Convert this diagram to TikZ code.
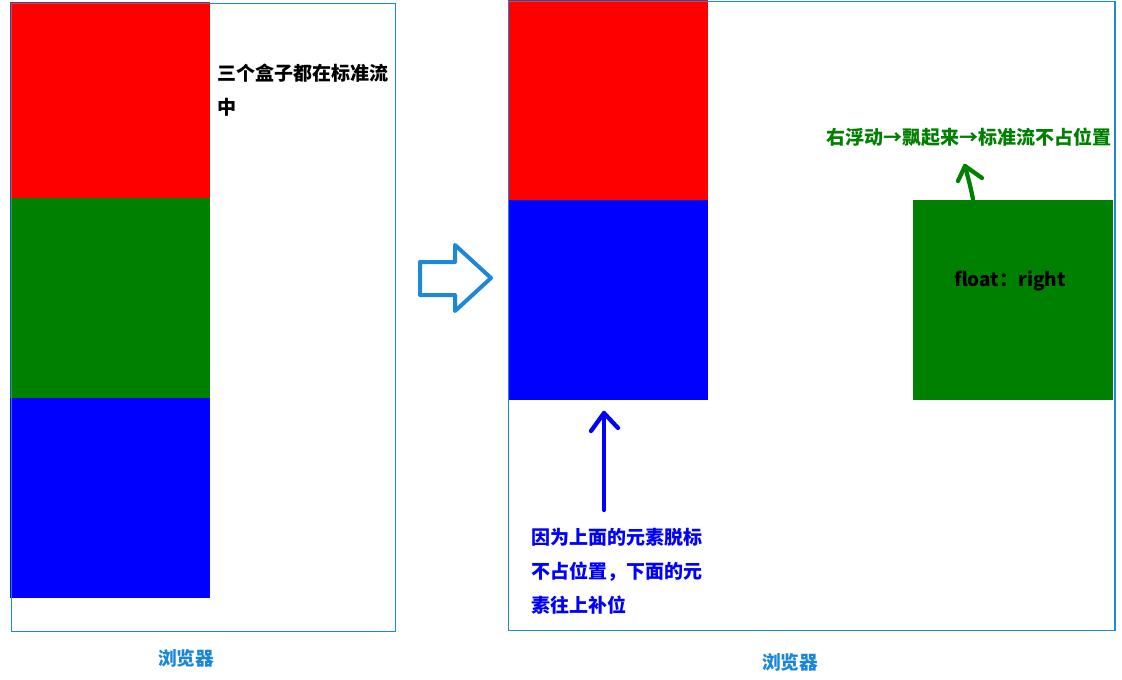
\documentclass[tikz,border=0pt]{standalone}
\usepackage{fontspec}
\setmainfont{Noto Sans CJK SC}
\definecolor{bord}{HTML}{1E88D8}
\definecolor{lbl}{HTML}{1A86D9}
\definecolor{grn}{HTML}{008000}
\tikzset{
  box/.style={draw=none,inner sep=0pt,outer sep=0pt,anchor=north west,minimum width=150pt,minimum height=150pt},
  browser/.style={draw=bord,line width=1.1pt,inner sep=0pt,anchor=north west},
  txt/.style={inner sep=0pt,font=\fontsize{14.25}{25.5}\selectfont\bfseries,align=left},
  lab/.style={inner sep=0pt,font=\fontsize{14}{16}\selectfont\bfseries,text=lbl},
  hand/.style={line width=3.2pt,line cap=round,line join=round},
}
\begin{document}
\begin{tikzpicture}[x=0.75pt,y=-0.75pt]
\useasboundingbox[fill=white] (0,0) rectangle (1122,679);
% left browser
\node[box,fill=red] (r1) at (10,2) {};
\node[box,fill=grn,minimum height=150pt] (g1) at (10,198) {};
\node[box,fill=blue] (b1) at (10,398) {};
\node[browser,minimum width=288pt,minimum height=471pt] (w1) at (10.5,2.5) {};
\node[txt,anchor=west] (t1) at (217,90) {三个盒子都在标准流\\中};
\node[lab] (l1) at (186,658) {浏览器};
% big hollow arrow
\draw[bord,line width=3pt,line join=round] (420,262) -- (455,262) -- (455,245) -- (491,278) -- (455,311) -- (455,295) -- (420,295) -- cycle;
% right browser
\node[box,fill=red] (r2) at (508,0) {};
\node[box,fill=blue] (b2) at (508,200) {};
\node[box,fill=grn] (g2) at (913,200) {};
\node[browser,minimum width=455pt,minimum height=472pt] (w2) at (507.5,0.5) {};
\node[txt] (f2) at (1010,281) {float：right};
\node[txt,text=grn,anchor=east] (t2) at (1112,137) {右浮动→飘起来→标准流不占位置};
\node[txt,text=blue,anchor=west] (t3) at (531,571) {因为上面的元素脱标\\不占位置，下面的元\\素往上补位};
\node[lab] (l2) at (790,662) {浏览器};
% green hand arrow
\coordinate (gs) at (973,199);
\coordinate (gt) at (965,166);
\draw[hand,grn] (gs) .. controls (970,185) .. (gt);
\draw[hand,grn] (958,181) -- (gt) -- (982,178);
% blue hand arrow
\coordinate (bs) at (604,510);
\coordinate (bt) at (604,413);
\draw[hand,blue] (bs) -- (bt);
\draw[hand,blue] (591,431) -- (bt) -- (618,428);
\end{tikzpicture}
\end{document}
